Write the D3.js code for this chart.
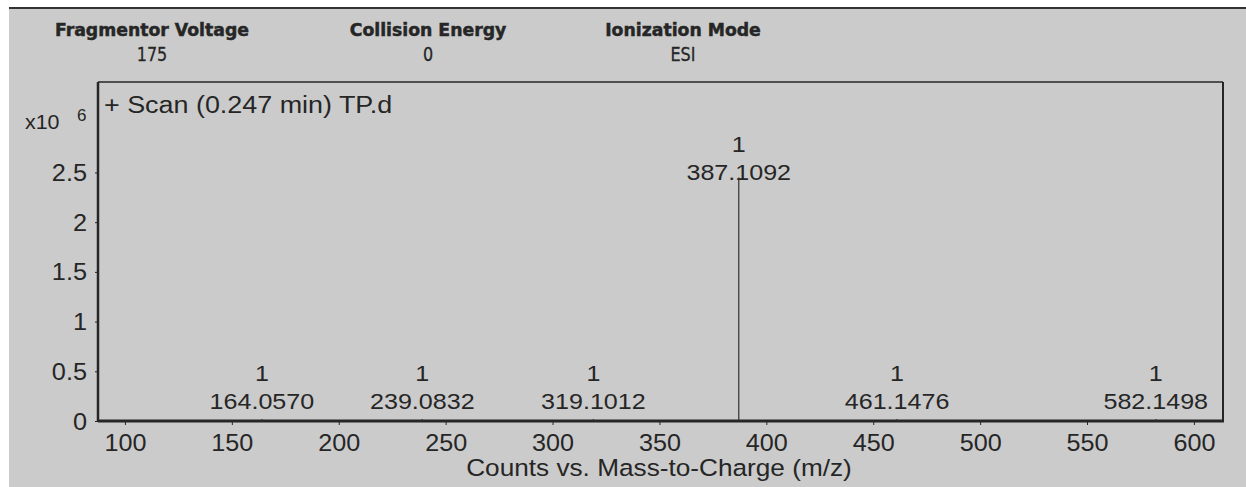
<!DOCTYPE html>
<html>
<head>
<meta charset="utf-8">
<script src="https://cdn.jsdelivr.net/npm/d3@7"></script>
<style>
  html, body { margin: 0; padding: 0; background: #ffffff; }
  svg { display: block; }
</style>
</head>
<body>
<svg id="chart" width="1246" height="487"></svg>
<script>
// Acquisition parameters shown in the header strip
const headerLabels = ["Fragmentor Voltage", "Collision Energy", "Ionization Mode"];
const headerValues = ["175", "0", "ESI"];

// Centroid peaks: m/z, intensity (counts) and charge state
const peakMz     = [164.0570, 239.0832, 319.1012, 387.1092, 461.1476, 582.1498];
const peakCounts = [0.02e6, 0.02e6, 0.02e6, 2.45e6, 0.02e6, 0.02e6];
const peakCharge = [1, 1, 1, 1, 1, 1];

// Axis ticks
const xTicks = [100, 150, 200, 250, 300, 350, 400, 450, 500, 550, 600];
const yTicks = [0, 0.5e6, 1e6, 1.5e6, 2e6, 2.5e6];

const scanTitle = "+ Scan (0.247 min) TP.d";
const xTitle = "Counts vs. Mass-to-Charge (m/z)";
const yExponent = "6";

// ---- layout ----
const W = 1246, H = 487;
const plot = { left: 98, right: 1223, top: 82, bottom: 421 };
const headerX = [152, 428, 683];
const ink = "#262626";
const paper = "#cbcbcb";
const sans = "'Liberation Sans', Arial, Helvetica, sans-serif";
const headFont = "'DejaVu Sans', Verdana, sans-serif";

const svg = d3.select("#chart");

// page background: white margin strip, grey panel with a rule along its top
svg.append("rect").attr("width", W).attr("height", H).attr("fill", "#ffffff");
svg.append("rect").attr("x", 9).attr("y", 8).attr("width", W - 9).attr("height", H - 8).attr("fill", paper);
svg.append("line").attr("x1", 9).attr("x2", W).attr("y1", 8).attr("y2", 8)
  .attr("stroke", "#333").attr("stroke-width", 2);

const x = d3.scaleLinear().domain([87.4, 613.6]).range([plot.left, plot.right]);
const y = d3.scaleLinear().domain([0, 3.41e6]).range([plot.bottom, plot.top]);

// helper: text stretched horizontally around its anchor point
function stretchedText(g, tx, ty, str, opts) {
  const t = g.append("g").attr("transform", `translate(${tx},${ty}) scale(${opts.sx || 1},1)`)
    .append("text")
    .attr("text-anchor", opts.anchor || "middle")
    .attr("font-family", opts.family || sans)
    .attr("font-size", opts.size)
    .attr("font-weight", opts.weight || "normal")
    .attr("fill", ink)
    .text(str);
  if (opts.heavy) t.attr("stroke", ink).attr("stroke-width", opts.heavy);
  return t;
}

// ---- header ----
const header = svg.append("g");
headerLabels.forEach((lab, i) => {
  stretchedText(header, headerX[i], 36, lab, { family: headFont, size: 18, weight: "bold", sx: 0.96, heavy: 0.5 });
  stretchedText(header, headerX[i], 61, headerValues[i], { family: headFont, size: 20, sx: 0.8, heavy: 0.3 });
});

// ---- axes ----
const xAxis = d3.axisBottom(x).tickValues(xTicks).tickSize(4).tickSizeOuter(0).tickFormat(d3.format("d"));
const gx = svg.append("g").attr("transform", `translate(0,${plot.bottom})`).call(xAxis);
gx.select(".domain").remove();
gx.selectAll(".tick line").attr("stroke", ink).attr("stroke-width", 1);
gx.selectAll(".tick text")
  .attr("font-family", sans).attr("font-size", 23).attr("fill", ink)
  .attr("y", 0).attr("dy", 0)
  .attr("transform", "translate(0,29.5) scale(1.095,1)");

const yAxis = d3.axisLeft(y).tickValues(yTicks).tickSize(3).tickSizeOuter(0)
  .tickFormat(d => String(d / 1e6));
const gy = svg.append("g").attr("transform", `translate(${plot.left},0)`).call(yAxis);
gy.select(".domain").remove();
gy.selectAll(".tick line").attr("stroke", ink).attr("stroke-width", 1);
gy.selectAll(".tick text")
  .attr("font-family", sans).attr("font-size", 23).attr("fill", ink)
  .attr("x", 0).attr("dy", "0.35em")
  .attr("transform", "translate(-11,0) scale(1.1,1)");

// plot frame: heavier left and bottom edges
const frame = svg.append("g").attr("fill", "none").attr("stroke", ink);
frame.append("line").attr("x1", plot.left).attr("x2", plot.right).attr("y1", plot.top).attr("y2", plot.top).attr("stroke-width", 1.5);
frame.append("line").attr("x1", plot.right).attr("x2", plot.right).attr("y1", plot.top).attr("y2", plot.bottom).attr("stroke-width", 2);
frame.append("line").attr("x1", plot.left).attr("x2", plot.left).attr("y1", plot.top).attr("y2", plot.bottom + 1).attr("stroke-width", 2.5);
frame.append("line").attr("x1", plot.left).attr("x2", plot.right + 1).attr("y1", plot.bottom).attr("y2", plot.bottom).attr("stroke-width", 3);

// ---- spectrum sticks ----
const peaks = peakMz.map((mz, i) => ({ mz, counts: peakCounts[i], z: peakCharge[i] }));
svg.append("g").selectAll("line").data(peaks).join("line")
  .attr("x1", d => x(d.mz)).attr("x2", d => x(d.mz))
  .attr("y1", y(0)).attr("y2", d => y(d.counts))
  .attr("stroke", "#333").attr("stroke-width", 1.2);

// peak annotations: charge state above the m/z value, both kept clear of the baseline
const ann = svg.append("g");
peaks.forEach(d => {
  const top = y(d.counts);
  const mzBase = Math.min(top + 3, y(0) - 12);
  const zBase = mzBase - 28;
  stretchedText(ann, x(d.mz), mzBase, d.mz.toFixed(4), { size: 22, sx: 1.14 });
  stretchedText(ann, x(d.mz), zBase, String(d.z), { size: 22, sx: 1.14 });
});

// ---- titles ----
stretchedText(svg, 104, 113, scanTitle, { size: 23, sx: 1.17, anchor: "start" });
stretchedText(svg, 25, 129, "x10", { size: 21, sx: 1.02, anchor: "start" });
stretchedText(svg, 77, 121, yExponent, { size: 17, sx: 1.0, anchor: "start" });
stretchedText(svg, 659, 476, xTitle, { size: 23.5, sx: 1.115 });
</script>
</body>
</html>
